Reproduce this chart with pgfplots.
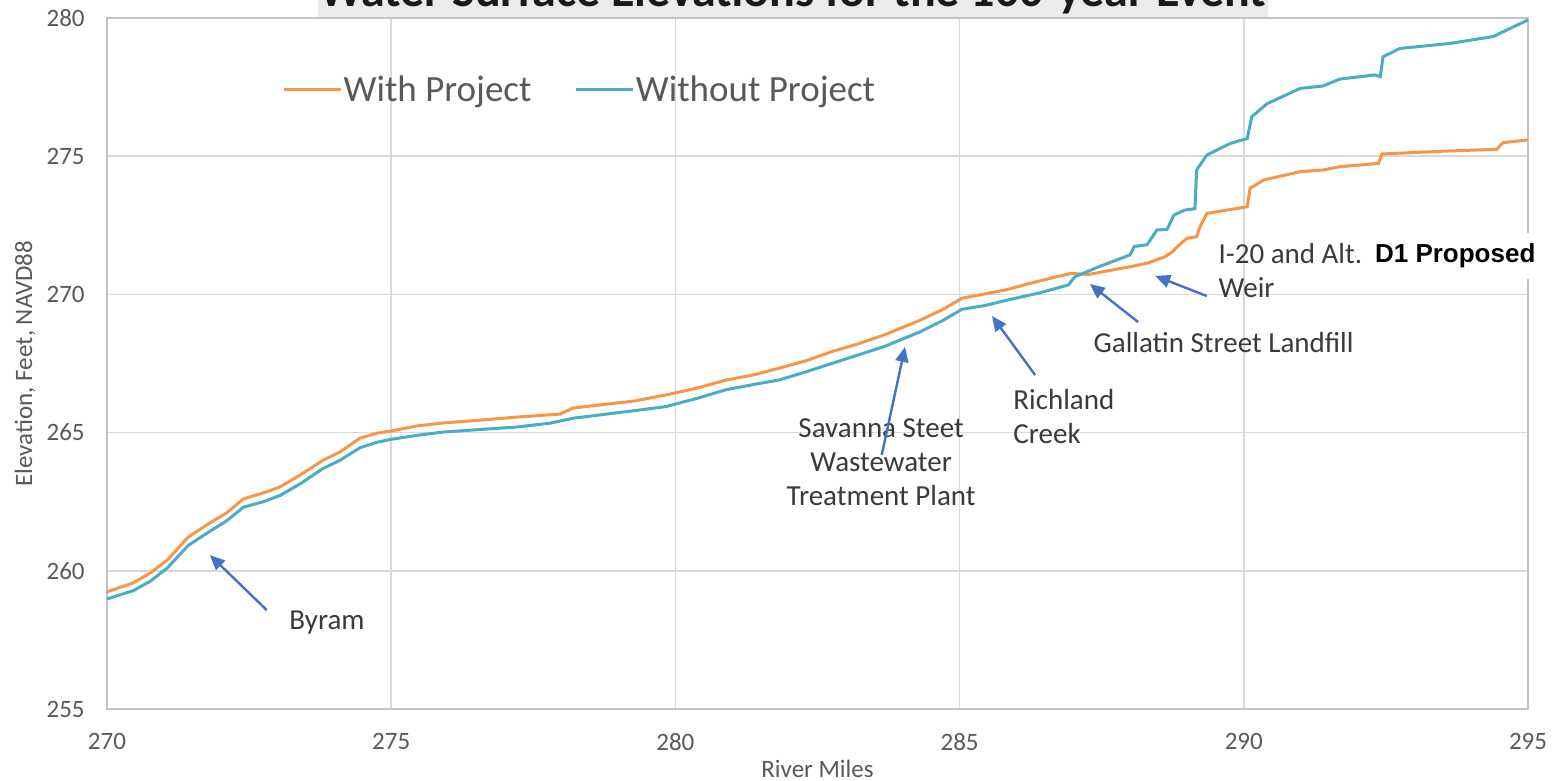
\documentclass[border=0pt]{standalone}
\usepackage{pgfplots}
\pgfplotsset{compat=1.18}
\usepackage{fontspec}
\setmainfont{Carlito}
\newfontfamily\arialfont{Liberation Sans}
\usetikzlibrary{arrows.meta}
\definecolor{cOrange}{HTML}{F79646}
\definecolor{cBlue}{HTML}{4BACC6}
\definecolor{cArrow}{HTML}{4472C4}
\definecolor{cGrid}{HTML}{D9D9D9}
\definecolor{cTick}{HTML}{595959}
\definecolor{cNote}{HTML}{3A3A3A}
\definecolor{cTitleBg}{HTML}{EBEBEB}
\begin{document}
\begin{tikzpicture}
\begin{axis}[
  at={(0pt,0pt)}, anchor=south west,
  scale only axis, width=710.5pt, height=345.5pt,
  xmin=270, xmax=295, ymin=255, ymax=280,
  xtick={270,275,...,295}, ytick={255,260,...,280},
  grid=major, grid style={cGrid, line width=0.75pt},
  axis line style={cGrid!90!black, line width=0.8pt},
  major tick length=0pt,
  /pgf/number format/assume math mode=true,
  /pgf/number format/.cd, 1000 sep={}, /pgfplots/.cd,
  ticklabel style={font=\fontsize{12.5}{14}\selectfont, text=cTick},
  yticklabel style={anchor=east, inner sep=0pt, xshift=-11pt},
  xticklabel style={anchor=north, inner sep=0pt, yshift=-12pt},
  clip=false,
  legend columns=2,
  legend style={at={(axis cs:273.08,277.4)}, anchor=west, draw=none, fill=none,
    inner sep=0pt, font=\fontsize{18.5}{20}\selectfont, text=cTick,
    /tikz/every even column/.append style={column sep=21pt},
    nodes={inner sep=0.6pt}},
  legend image code/.code={\draw[#1,line width=1.5pt] (0pt,0pt) -- (28.5pt,0pt);},
]
% title box (partly cut off at the top)
\fill[cTitleBg] ([xshift=105.5pt,yshift=0.5pt]rel axis cs:0,1) rectangle ([xshift=580.5pt,yshift=25pt]rel axis cs:0,1);
\node[anchor=base, font=\fontsize{24}{26}\selectfont\bfseries, text=black!90]
  at ([xshift=343pt,yshift=5.5pt]rel axis cs:0,1) {Water Surface Elevations for the 100-year Event};

\addplot[cOrange, line width=1.5pt] coordinates {
(270.0,259.24) (270.46,259.56) (270.76,259.92) (271.06,260.39) (271.43,261.22)
(271.81,261.73) (272.1,262.09) (272.4,262.6) (272.75,262.82) (273.04,263.03)
(273.4,263.47) (273.8,264.0) (274.1,264.3) (274.45,264.8) (274.75,264.98)
(274.98,265.05) (275.45,265.24) (275.92,265.35) (276.62,265.46) (277.2,265.56)
(277.97,265.67) (278.2,265.89) (278.67,266.0) (279.3,266.15) (279.83,266.36)
(280.4,266.62) (280.89,266.9) (281.4,267.1) (281.82,267.33) (282.3,267.6)
(282.75,267.93) (283.2,268.2) (283.67,268.53) (284.31,269.07) (284.7,269.45)
(285.04,269.86) (285.45,270.02) (285.85,270.18) (286.2,270.38) (286.47,270.52)
(286.96,270.76) (287.27,270.72) (287.6,270.85) (288.0,271.0) (288.3,271.13)
(288.6,271.35) (288.75,271.55) (288.83,271.73) (289.0,272.03) (289.17,272.09)
(289.23,272.45) (289.35,272.93) (289.7,273.05) (290.06,273.17) (290.11,273.84)
(290.35,274.14) (290.99,274.44) (291.39,274.5) (291.69,274.62) (292.37,274.74)
(292.43,275.08) (293.5,275.18) (294.45,275.25) (294.56,275.49) (295.0,275.59)
};
\addlegendentry{With Project}
\addplot[cBlue, line width=1.5pt] coordinates {
(270.0,258.98) (270.46,259.28) (270.76,259.62) (271.06,260.1) (271.43,260.92)
(271.81,261.43) (272.1,261.8) (272.4,262.3) (272.75,262.5) (273.04,262.72)
(273.4,263.15) (273.8,263.7) (274.1,264.0) (274.45,264.45) (274.75,264.65)
(274.98,264.75) (275.45,264.9) (275.92,265.02) (276.62,265.12) (277.2,265.2)
(277.79,265.34) (278.2,265.52) (278.67,265.64) (279.3,265.8) (279.83,265.94)
(280.4,266.25) (280.89,266.55) (281.4,266.75) (281.82,266.9) (282.3,267.2)
(282.75,267.5) (283.2,267.8) (283.67,268.11) (284.31,268.65) (284.7,269.05)
(285.04,269.46) (285.45,269.6) (285.85,269.8) (286.4,270.05) (286.91,270.34)
(287.03,270.64) (287.45,271.0) (288.0,271.43) (288.07,271.73) (288.3,271.8)
(288.47,272.33) (288.65,272.35) (288.77,272.87) (288.96,273.05) (289.14,273.1)
(289.17,274.5) (289.35,275.04) (289.76,275.46) (290.06,275.64) (290.14,276.43)
(290.41,276.9) (290.99,277.45) (291.39,277.54) (291.69,277.79) (292.31,277.94)
(292.40,277.88) (292.45,278.6) (292.75,278.9) (293.63,279.08) (294.39,279.33)
(294.56,279.5) (295.0,279.93)
};
\addlegendentry{Without Project}

% annotations
\begin{scope}[every node/.style={font=\fontsize{14.5}{17}\selectfont, text=cNote, inner sep=0pt},
  arr/.style={cArrow, line width=1.2pt, -{Triangle[length=7.5pt,width=6.5pt]}}]
\node at (axis cs:273.87,258.12) {Byram};
\draw[arr] (axis cs:272.81,258.58) -- (axis cs:271.81,260.57);
\node[align=center] at (axis cs:283.62,263.92) {Savanna Steet\\Wastewater\\Treatment Plant};
\draw[arr] (axis cs:283.63,264.19) -- (axis cs:284.04,268.1);
\node[align=left, anchor=west] at (axis cs:285.94,265.57) {Richland\\Creek};
\draw[arr] (axis cs:286.33,267.08) -- (axis cs:285.57,269.22);
\node[anchor=west] at (axis cs:287.35,268.26) {Gallatin Street Landfill};
\draw[arr] (axis cs:288.14,269.0) -- (axis cs:287.29,270.38);
\node[align=left, anchor=west] at (axis cs:289.55,270.87) {I-20 and Alt.\\Weir};
\draw[arr] (axis cs:289.35,269.94) -- (axis cs:288.44,270.67);
\end{scope}
\node[fill=white, inner xsep=3pt, minimum height=23pt, font=\arialfont\fontsize{13}{15}\selectfont\bfseries, text=black]
  at (axis cs:293.72,271.4) {D1 Proposed};

% axis labels
\node[rotate=90, anchor=center, font=\fontsize{12.5}{14}\selectfont, text=cTick]
  at ([xshift=-41pt]rel axis cs:0,0.5) {Elevation, Feet, NAVD88};
\node[anchor=base, font=\fontsize{12.5}{14}\selectfont, text=cTick]
  at ([yshift=-34.5pt]rel axis cs:0.5,0) {River Miles};
\end{axis}
\pgfresetboundingbox
\useasboundingbox (-53.5pt,-36pt) rectangle (723pt,354.5pt);
\end{tikzpicture}
\end{document}
